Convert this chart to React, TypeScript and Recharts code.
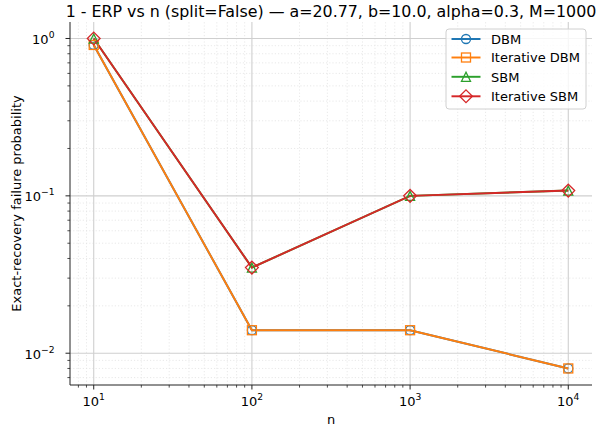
import { LineChart, Line, XAxis, YAxis, ReferenceLine } from 'recharts'

// sample sizes on the x axis
const nValues = [10, 100, 1000, 10000]

// failure probability per method
const dbm = [0.91, 0.014, 0.014, 0.008]
const iterativeDbm = [0.91, 0.014, 0.014, 0.008]
const sbm = [1.0, 0.035, 0.1, 0.108]
const iterativeSbm = [1.0, 0.035, 0.1, 0.108]

const xMajorTicks = [10, 100, 1000, 10000]
const xMinorTicks = [
  8, 9, 20, 30, 40, 50, 60, 70, 80, 90, 200, 300, 400, 500, 600, 700, 800, 900,
  2000, 3000, 4000, 5000, 6000, 7000, 8000, 9000,
]
const yMajorTicks = [0.01, 0.1, 1]
const yMinorTicks = [
  0.007, 0.008, 0.009, 0.02, 0.03, 0.04, 0.05, 0.06, 0.07, 0.08, 0.09, 0.2, 0.3,
  0.4, 0.5, 0.6, 0.7, 0.8, 0.9,
]

const xDomain = [7.08, 14125]
const yDomain = [0.00628, 1.273]

const series = [
  { key: 'dbm', name: 'DBM', color: '#1f77b4', marker: 'circle', values: dbm },
  { key: 'iterativeDbm', name: 'Iterative DBM', color: '#ff7f0e', marker: 'square', values: iterativeDbm },
  { key: 'sbm', name: 'SBM', color: '#2ca02c', marker: 'triangle', values: sbm },
  { key: 'iterativeSbm', name: 'Iterative SBM', color: '#d62728', marker: 'diamond', values: iterativeSbm },
]

const data = nValues.map((n, i) => {
  const row: Record<string, number> = { n }
  series.forEach((s) => {
    row[s.key] = s.values[i]
  })
  return row
})

const FONT = '"DejaVu Sans", sans-serif'
const SPINE = '#222'

function Marker({ shape, cx, cy, color }: { shape: string; cx: number; cy: number; color: string }) {
  const common = { fill: 'none', stroke: color, strokeWidth: 1.3 }
  if (shape === 'circle') return <circle cx={cx} cy={cy} r={4.5} {...common} />
  if (shape === 'square') return <rect x={cx - 4.5} y={cy - 4.5} width={9} height={9} {...common} />
  if (shape === 'triangle')
    return <polygon points={`${cx},${cy - 4.5} ${cx - 4.5},${cy + 4.5} ${cx + 4.5},${cy + 4.5}`} {...common} />
  return <polygon points={`${cx},${cy - 6.4} ${cx + 6.4},${cy} ${cx},${cy + 6.4} ${cx - 6.4},${cy}`} {...common} />
}

const isMajor = (v: number) => Math.abs(Math.log10(v) - Math.round(Math.log10(v))) < 1e-9
const expLabel = (v: number) => {
  const e = Math.round(Math.log10(v))
  return e < 0 ? `\u2212${-e}` : `${e}`
}

function XTick(props: any) {
  const { x, y, payload } = props
  const major = isMajor(payload.value)
  return (
    <g>
      <line x1={x} x2={x} y1={y} y2={y + (major ? 4.5 : 2.6)} stroke={SPINE} strokeWidth={major ? 1 : 0.8} />
      {major && (
        <text x={x} y={y + 21} textAnchor="middle" fontSize={13} fill="#000" fontFamily={FONT}>
          10
          <tspan dy={-6} fontSize={9.2}>
            {expLabel(payload.value)}
          </tspan>
        </text>
      )}
    </g>
  )
}

function YTick(props: any) {
  const { x, y, payload } = props
  const major = isMajor(payload.value)
  return (
    <g>
      <line x1={x} x2={x - (major ? 4.5 : 2.6)} y1={y} y2={y} stroke={SPINE} strokeWidth={major ? 1 : 0.8} />
      {major && (
        <text x={x - 15.5} y={y + 5.5} textAnchor="end" fontSize={13} fill="#000" fontFamily={FONT}>
          10
          <tspan dy={-6} fontSize={9.2}>
            {expLabel(payload.value)}
          </tspan>
        </text>
      )}
    </g>
  )
}

function LegendBox() {
  const rows = [11, 29.5, 48.8, 68.3]
  return (
    <svg
      width={142}
      height={82}
      style={{ position: 'absolute', left: 445, top: 28, fontFamily: FONT }}
    >
      <rect x={1} y={1} width={140} height={80} rx={3} fill="rgba(255,255,255,0.8)" stroke="#d0d0d0" />
      {series.map((s, i) => (
        <g key={s.key}>
          <line x1={6.5} x2={35.5} y1={rows[i]} y2={rows[i]} stroke={s.color} strokeWidth={1.95} />
          <Marker shape={s.marker} cx={21} cy={rows[i]} color={s.color} />
          <text x={46} y={rows[i] + 4.7} fontSize={13} fill="#000">
            {s.name}
          </text>
        </g>
      ))}
    </svg>
  )
}

export default function App() {
  return (
    <div style={{ position: 'absolute', left: 0, top: 0, width: 598, height: 431, fontFamily: FONT }}>
      <LineChart width={598} height={431} data={data} margin={{ top: 22, right: 6, bottom: 16, left: 10 }}>
        {/* minor grid */}
        {xMinorTicks.map((v) => (
          <ReferenceLine key={`xm${v}`} x={v} stroke="#e3e3e3" strokeWidth={0.8} strokeDasharray="1.2 2" />
        ))}
        {yMinorTicks.map((v) => (
          <ReferenceLine key={`ym${v}`} y={v} stroke="#e3e3e3" strokeWidth={0.8} strokeDasharray="1.2 2" />
        ))}
        {/* major grid */}
        {xMajorTicks.map((v) => (
          <ReferenceLine key={`xM${v}`} x={v} stroke="#cfcfcf" strokeWidth={1.1} />
        ))}
        {yMajorTicks.map((v) => (
          <ReferenceLine key={`yM${v}`} y={v} stroke="#cfcfcf" strokeWidth={1.1} />
        ))}

        <XAxis
          dataKey="n"
          type="number"
          scale="log"
          domain={xDomain}
          allowDataOverflow
          ticks={[...xMajorTicks, ...xMinorTicks]}
          interval={0}
          tick={<XTick />}
          tickLine={false}
          tickSize={0}
          tickMargin={0}
          height={30}
          axisLine={{ stroke: SPINE, strokeWidth: 1 }}
        />
        <XAxis
          xAxisId="top"
          orientation="top"
          type="number"
          scale="log"
          domain={xDomain}
          allowDataOverflow
          tick={false}
          tickLine={false}
          height={0}
          axisLine={{ stroke: SPINE, strokeWidth: 1 }}
        />
        <YAxis
          type="number"
          scale="log"
          domain={yDomain}
          allowDataOverflow
          ticks={[...yMajorTicks, ...yMinorTicks]}
          interval={0}
          tick={<YTick />}
          tickLine={false}
          tickSize={0}
          tickMargin={0}
          width={60}
          axisLine={{ stroke: SPINE, strokeWidth: 1 }}
        />
        <YAxis
          yAxisId="right"
          orientation="right"
          type="number"
          scale="log"
          domain={yDomain}
          allowDataOverflow
          tick={false}
          tickLine={false}
          width={0}
          axisLine={{ stroke: SPINE, strokeWidth: 1 }}
        />

        {series.map((s) => (
          <Line
            key={s.key}
            dataKey={s.key}
            name={s.name}
            type="linear"
            stroke={s.color}
            strokeWidth={1.95}
            isAnimationActive={false}
            dot={(p: any) => <Marker key={`${s.key}-${p.index}`} shape={s.marker} cx={p.cx} cy={p.cy} color={s.color} />}
            activeDot={false}
          />
        ))}

        <text x={331} y={17.3} textAnchor="middle" fontSize={15.85} fill="#000" fontFamily={FONT}>
          1 - ERP vs n (split=False) — a=20.77, b=10.0, alpha=0.3, M=1000
        </text>
        <text x={331} y={424} textAnchor="middle" fontSize={13} fill="#000" fontFamily={FONT}>
          n
        </text>
        <text
          x={21}
          y={203.5}
          transform="rotate(-90, 21, 203.5)"
          textAnchor="middle"
          fontSize={13}
          fill="#000"
          fontFamily={FONT}
        >
          Exact-recovery failure probability
        </text>
      </LineChart>
      <LegendBox />
    </div>
  )
}
